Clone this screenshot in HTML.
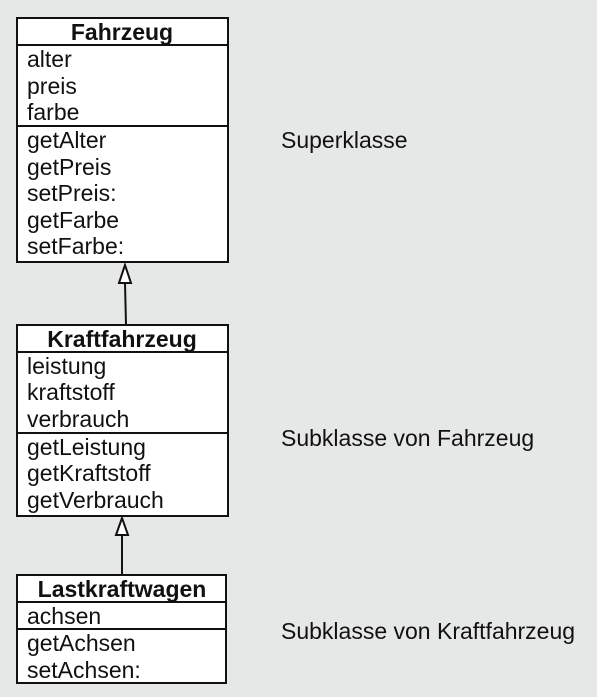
<!DOCTYPE html>
<html><head><meta charset="utf-8"><style>
html,body{margin:0;padding:0;background:#fff;}
svg{display:block;}
text{font-family:"Liberation Sans",Arial,sans-serif;font-size:23px;fill:#111;}
.b{font-weight:bold;}
</style></head><body>
<svg width="600" height="700" viewBox="0 0 600 700">
<rect x="0" y="0" width="597" height="697" fill="#e6e8e7"/>
<g stroke="#111" stroke-width="2" fill="#fff">
<rect x="17" y="18" width="211" height="244"/>
<line x1="17" y1="45" x2="228" y2="45"/>
<line x1="17" y1="126" x2="228" y2="126"/>
<rect x="17" y="325" width="211" height="191"/>
<line x1="17" y1="352" x2="228" y2="352"/>
<line x1="17" y1="433" x2="228" y2="433"/>
<rect x="17" y="575" width="209" height="108"/>
<line x1="17" y1="602" x2="226" y2="602"/>
<line x1="17" y1="629" x2="226" y2="629"/>
<line x1="125" y1="283" x2="126" y2="325"/>
<polygon points="125,265 119,283 131,283" fill="#fff"/>
<line x1="122" y1="535" x2="122" y2="575"/>
<polygon points="122,518 116,535 128,535" fill="#fff"/>
</g>
<text class="b" x="122" y="40" text-anchor="middle">Fahrzeug</text>
<text x="27" y="67">alter</text>
<text x="27" y="94">preis</text>
<text x="27" y="120">farbe</text>
<text x="27" y="148">getAlter</text>
<text x="27" y="175">getPreis</text>
<text x="27" y="201">setPreis:</text>
<text x="27" y="228">getFarbe</text>
<text x="27" y="254">setFarbe:</text>
<text class="b" x="122" y="347" text-anchor="middle">Kraftfahrzeug</text>
<text x="27" y="374">leistung</text>
<text x="27" y="400">kraftstoff</text>
<text x="27" y="427">verbrauch</text>
<text x="27" y="455">getLeistung</text>
<text x="27" y="481">getKraftstoff</text>
<text x="27" y="508">getVerbrauch</text>
<text class="b" x="122" y="597" text-anchor="middle">Lastkraftwagen</text>
<text x="27" y="624">achsen</text>
<text x="27" y="651">getAchsen</text>
<text x="27" y="678">setAchsen:</text>
<text x="281" y="148">Superklasse</text>
<text x="281" y="446">Subklasse von Fahrzeug</text>
<text x="281" y="639">Subklasse von Kraftfahrzeug</text>
</svg>
</body></html>
